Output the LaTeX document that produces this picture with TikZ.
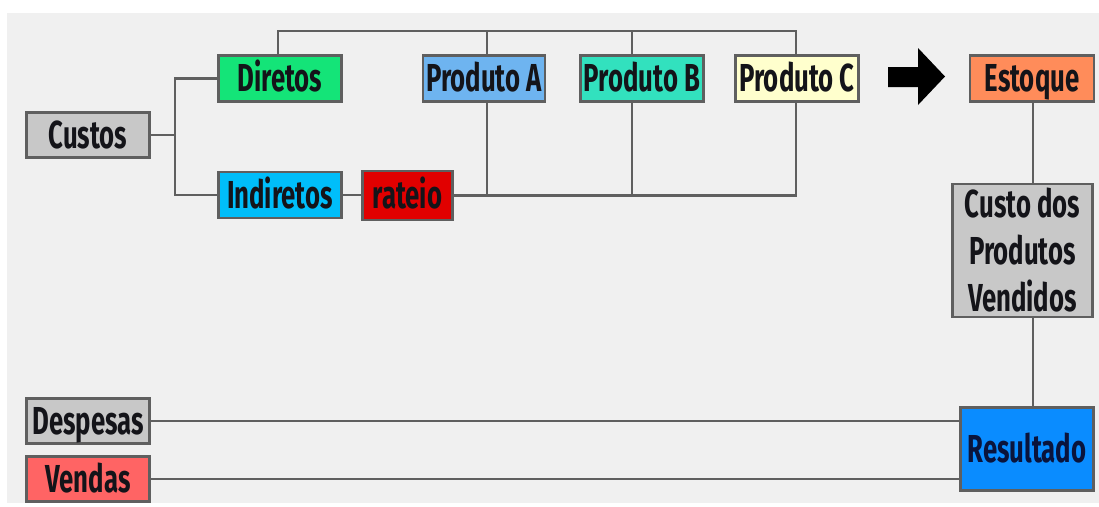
\documentclass[tikz,border=0pt]{standalone}
\usepackage{fontspec}
\setmainfont{Fira Sans}
\usepackage{graphicx}
\definecolor{bg}{RGB}{240,240,240}
\definecolor{edge}{RGB}{95,95,95}
\definecolor{cgray}{RGB}{200,200,200}
\definecolor{cdir}{RGB}{20,228,120}
\definecolor{cind}{RGB}{0,190,250}
\definecolor{crat}{RGB}{225,0,0}
\definecolor{cpa}{RGB}{110,180,240}
\definecolor{cpb}{RGB}{50,225,190}
\definecolor{cpc}{RGB}{255,255,205}
\definecolor{cest}{RGB}{255,140,90}
\definecolor{cres}{RGB}{10,140,255}
\definecolor{cven}{RGB}{255,100,100}
\definecolor{ctext}{RGB}{20,20,25}
\newcommand{\cf}[1]{\scalebox{0.66}[1]{\bfseries #1}}
\tikzset{
  box/.style={draw=edge, line width=2.7pt, inner sep=0pt, text=ctext,
    font=\fontsize{39}{47}\selectfont, align=center},
  one/.style={text height=26.5pt, text depth=0pt},
  link/.style={draw=edge, line width=2.7pt}
}
\begin{document}
\begin{tikzpicture}[x=1pt,y=-1pt]
\useasboundingbox (0,0) rectangle (1099,506);
\fill[white] (0,0) rectangle (1099,506);
\fill[bg] (7,13) rectangle (1099,503);

% nodes
\node[box, one, fill=cgray, minimum width=123pt, minimum height=45pt] (custos) at (88,135) {\cf{Custos}};
\node[box, one, fill=cdir, minimum width=123pt, minimum height=46pt] (dir) at (280,78.5) {\cf{Diretos}};
\node[box, one, fill=cind, minimum width=123pt, minimum height=46pt] (ind) at (280,195) {\cf{Indiretos}};
\node[box, one, fill=crat, minimum width=90pt, minimum height=49pt] (rat) at (407.5,195.5) {\cf{rateio}};
\node[box, one, fill=cpa, minimum width=122pt, minimum height=46pt] (pa) at (484,78.5) {\cf{Produto A}};
\node[box, one, fill=cpb, minimum width=123pt, minimum height=46pt] (pb) at (642,78.5) {\cf{Produto B}};
\node[box, one, fill=cpc, minimum width=123pt, minimum height=46pt] (pc) at (797,78.5) {\cf{Produto C}};
\node[box, one, fill=cest, minimum width=124pt, minimum height=46pt] (est) at (1032,78.5) {\cf{Estoque}};
\node[box, fill=cgray, minimum width=140pt, minimum height=133pt] (cpv) at (1022.5,250.5)
  {\cf{Custo dos}\\\cf{Produtos}\\\cf{Vendidos}};
\node[box, one, fill=cres, minimum width=133pt, minimum height=83pt, text={rgb,255:red,10;green,20;blue,60}] (res) at (1027,449) {\cf{Resultado}};
\node[box, one, fill=cgray, minimum width=123pt, minimum height=45pt] (desp) at (88,421) {\cf{Despesas}};
\node[box, one, fill=cven, minimum width=123pt, minimum height=45pt] (ven) at (88,479) {\cf{Vendas}};

% block arrow
\fill[black] (888,67) -- (918,67) -- (918,48) -- (945,76.5) -- (918,105) -- (918,87) -- (888,87) -- cycle;

% connectors
\coordinate (br) at (175,135);
\draw[link] (custos.east) -- (br);
\draw[link] (dir.west) -| (br) |- (ind.west);
\draw[link] (ind.east) -- (ind.east -| rat.west);

\coordinate (tl) at (278,31);
\coordinate (tr) at (796,31);
\draw[link] (dir.north -| tl) -- (tl) -- (tr) -- (pc.north -| tr);
\draw[link] (pa.north -| 487,0) -- (487,31);
\draw[link] (pb.north -| 632,0) -- (632,31);

\draw[link] (rat.east |- 0,195.5) -- (796,195.5) -- (pc.south -| 796,0);
\draw[link] (pa.south -| 487,0) -- (487,195.5);
\draw[link] (pb.south -| 632,0) -- (632,195.5);

\draw[link] (est.south -| 1033,0) -- (cpv.north -| 1033,0);
\draw[link] (cpv.south -| 1033,0) -- (res.north -| 1033,0);
\draw[link] (desp.east) -- (desp.east -| res.west);
\draw[link] (ven.east) -- (ven.east -| res.west);
\end{tikzpicture}
\end{document}
